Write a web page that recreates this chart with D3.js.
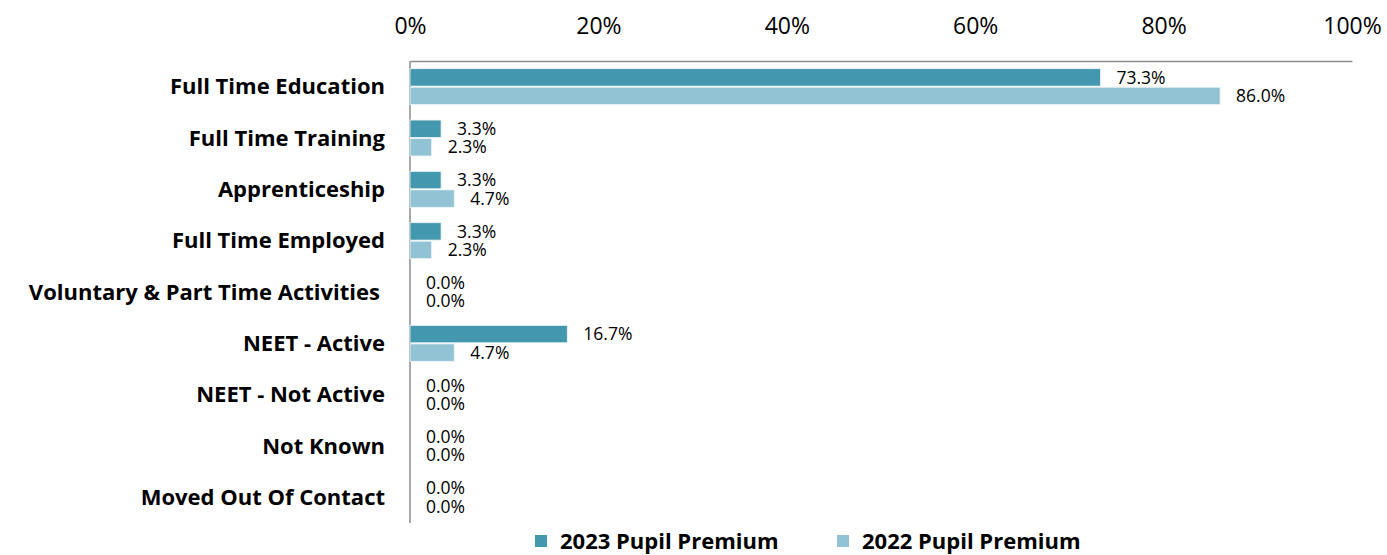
<!DOCTYPE html>
<html>
<head>
<meta charset="utf-8">
<script src="https://cdn.jsdelivr.net/npm/d3@7"></script>
<style>
  body { margin: 0; background: #fff; }
  text { font-family: "Open Sans", "Liberation Sans", Arial, sans-serif; fill: #000; }
</style>
</head>
<body>
<script>

var width = 1387,
	height = 555;

var categories = ['Full Time Education', 'Full Time Training', 'Apprenticeship', 'Full Time Employed',
	'Voluntary & Part Time Activities', 'NEET - Active', 'NEET - Not Active', 'Not Known', 'Moved Out Of Contact'];
var values2023 = [73.3, 3.3, 3.3, 3.3, 0.0, 16.7, 0.0, 0.0, 0.0];
var values2022 = [86.0, 2.3, 4.7, 2.3, 0.0, 4.7, 0.0, 0.0, 0.0];
var seriesNames = ['2023 Pupil Premium', '2022 Pupil Premium'];
var ticks = [0, 20, 40, 60, 80, 100];

var colors = ['#4398b0', '#92c3d5'];

var margin = {top: 61, left: 410, right: 35, bottom: 32};

var svg = d3.select('body').append('svg')
			.attr('width', width)
			.attr('height', height);

var x = d3.scaleLinear()
			.domain([0, 100])
			.range([margin.left, width - margin.right]);

var y = d3.scaleBand()
			.domain(categories)
			.range([margin.top, height - margin.bottom])
			.paddingInner(0.3)
			.paddingOuter(0.15);

var inner = d3.scaleBand()
			.domain([0, 1])
			.range([0, y.bandwidth()])
			.paddingInner(0.06);

// top axis
var xAxis = d3.axisTop(x)
			.tickValues(ticks)
			.tickSize(0)
			.tickPadding(27)
			.tickFormat(function(d){ return d + '%'; });

var gx = svg.append('g')
	.attr('transform', 'translate(0,' + margin.top + ')')
	.call(xAxis);
gx.select('.domain').attr('stroke', '#8c8c8c').attr('stroke-width', 1.5);
gx.selectAll('text').style('font-size', '23px').attr('fill', '#000');

// left axis line
svg.append('line')
	.attr('x1', x(0)).attr('x2', x(0))
	.attr('y1', margin.top).attr('y2', height - margin.bottom)
	.attr('stroke', '#8c8c8c')
	.attr('stroke-width', 1.5);

// category labels
svg.selectAll('.cat')
	.data(categories)
	.enter().append('text').classed('cat', true)
	.attr('x', function(d){ return d.length > 25 ? 380 : 385; })
	.attr('y', function(d){ return y(d) + y.bandwidth() / 2; })
	.attr('dy', '0.35em')
	.attr('text-anchor', 'end')
	.style('font-size', '22px')
	.style('font-weight', 'bold')
	.text(function(d){ return d; });

var series = [values2023, values2022];

series.forEach(function(vals, s){
	var g = svg.append('g');

	g.selectAll('rect')
		.data(vals)
		.enter().append('rect')
		.attr('x', x(0))
		.attr('y', function(d, i){ return y(categories[i]) + inner(s); })
		.attr('width', function(d){ return x(d) - x(0); })
		.attr('height', inner.bandwidth())
		.attr('fill', colors[s])
		.attr('stroke', '#eef6f9')
		.attr('stroke-width', 0.8);

	g.selectAll('text')
		.data(vals)
		.enter().append('text')
		.attr('x', function(d){ return x(d) + 16; })
		.attr('y', function(d, i){ return y(categories[i]) + inner(s) + inner.bandwidth() / 2; })
		.attr('dy', '0.35em')
		.style('font-size', '17.5px')
		.text(function(d){ return d.toFixed(1) + '%'; });
});

// legend
var legendX = [535, 837];
var legend = svg.selectAll('.leg')
	.data(seriesNames)
	.enter().append('g').classed('leg', true)
	.attr('transform', function(d, i){ return 'translate(' + legendX[i] + ',' + 541 + ')'; });

legend.append('rect')
	.attr('x', 0).attr('y', -6)
	.attr('width', 12).attr('height', 12)
	.attr('fill', function(d, i){ return colors[i]; });

legend.append('text')
	.attr('x', 25)
	.attr('dy', '0.35em')
	.style('font-size', '22px')
	.style('font-weight', 'bold')
	.text(function(d){ return d; });

</script>
</body>
</html>
